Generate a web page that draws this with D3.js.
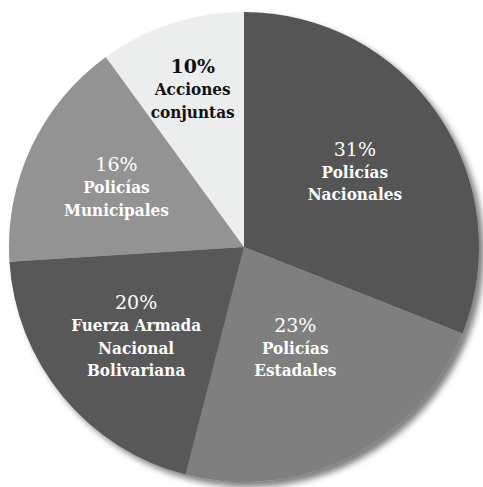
<!DOCTYPE html>
<html>
<head>
<meta charset="utf-8">
<script src="https://cdn.jsdelivr.net/npm/d3@7"></script>
<style>
  body { margin: 0; background: #fff; }
  svg { display: block; }
</style>
</head>
<body>
<div id="main"></div>
<script>
// chart values, clockwise from 12 o'clock
const categories = ["Policías Nacionales", "Policías Estadales", "Fuerza Armada Nacional Bolivariana", "Policías Municipales", "Acciones conjuntas"];
const shares = [31, 23, 20, 16, 10];
const labelLines = [
    ["Policías", "Nacionales"],
    ["Policías", "Estadales"],
    ["Fuerza Armada", "Nacional", "Bolivariana"],
    ["Policías", "Municipales"],
    ["Acciones", "conjuntas"]
];

const ctx = {
    w: 483,
    h: 487,
    cx: 244,
    cy: 247,
    r: 235,
    lineH: 22.5,
    font: "'DejaVu Serif Condensed', 'DejaVu Serif', serif",
    pctFont: "'DejaVu Serif', serif",
};

// slice fills and how far from the centre each label block sits
const fills = {
    "Policías Nacionales": "#545554",
    "Policías Estadales": "#7f7f7f",
    "Fuerza Armada Nacional Bolivariana": "#595959",
    "Policías Municipales": "#939393",
    "Acciones conjuntas": "#eceded",
};
const labelRadius = {
    "Policías Nacionales": 134,
    "Policías Estadales": 113,
    "Fuerza Armada Nacional Bolivariana": 140,
    "Policías Municipales": 141,
    "Acciones conjuntas": 166,
};

function createViz() {
    let svgEl = d3.select("#main").append("svg")
        .attr("width", ctx.w)
        .attr("height", ctx.h);

    let defs = svgEl.append("defs");
    let shadow = defs.append("filter")
        .attr("id", "shadow")
        .attr("x", "-10%").attr("y", "-10%")
        .attr("width", "130%").attr("height", "130%");
    shadow.append("feDropShadow")
        .attr("dx", 5)
        .attr("dy", 5)
        .attr("stdDeviation", 3)
        .attr("flood-color", "#000")
        .attr("flood-opacity", 0.5);

    let rows = categories.map((c, i) => ({ name: c, value: shares[i], lines: labelLines[i] }));
    let pie = d3.pie().sort(null).value((d) => d.value);
    let arc = d3.arc().innerRadius(0).outerRadius(ctx.r);
    let arcs = pie(rows);

    let g = svgEl.append("g")
        .attr("transform", `translate(${ctx.cx},${ctx.cy})`);

    g.append("g")
        .attr("filter", "url(#shadow)")
        .selectAll("path")
        .data(arcs)
        .enter()
        .append("path")
        .attr("d", arc)
        .attr("fill", (d) => fills[d.data.name]);

    let labels = g.selectAll("g.label")
        .data(arcs)
        .enter()
        .append("g")
        .classed("label", true)
        .attr("transform", (d) => {
            let lr = labelRadius[d.data.name];
            let c = d3.arc().innerRadius(lr).outerRadius(lr).centroid(d);
            return `translate(${c[0]},${c[1]})`;
        })
        .style("fill", (d) => (d.data.value < 12 ? "#111" : "#fff"))
        .attr("text-anchor", "middle");

    labels.each(function (d) {
        let lg = d3.select(this);
        let n = d.data.lines.length + 1;
        let top = -((n - 1) * ctx.lineH) / 2;
        lg.append("text")
            .attr("y", top)
            .attr("dy", "0.36em")
            .style("font-family", ctx.pctFont)
            .style("font-size", "19px")
            .style("font-weight", d.data.value < 12 ? "bold" : "normal")
            .text(d.data.value + "%");
        d.data.lines.forEach((t, j) => {
            lg.append("text")
                .attr("y", top + (j + 1) * ctx.lineH)
                .attr("dy", "0.36em")
                .style("font-family", ctx.font)
                .style("font-size", "17px")
                .style("font-weight", "bold")
                .text(t);
        });
    });
}

createViz();
</script>
</body>
</html>
